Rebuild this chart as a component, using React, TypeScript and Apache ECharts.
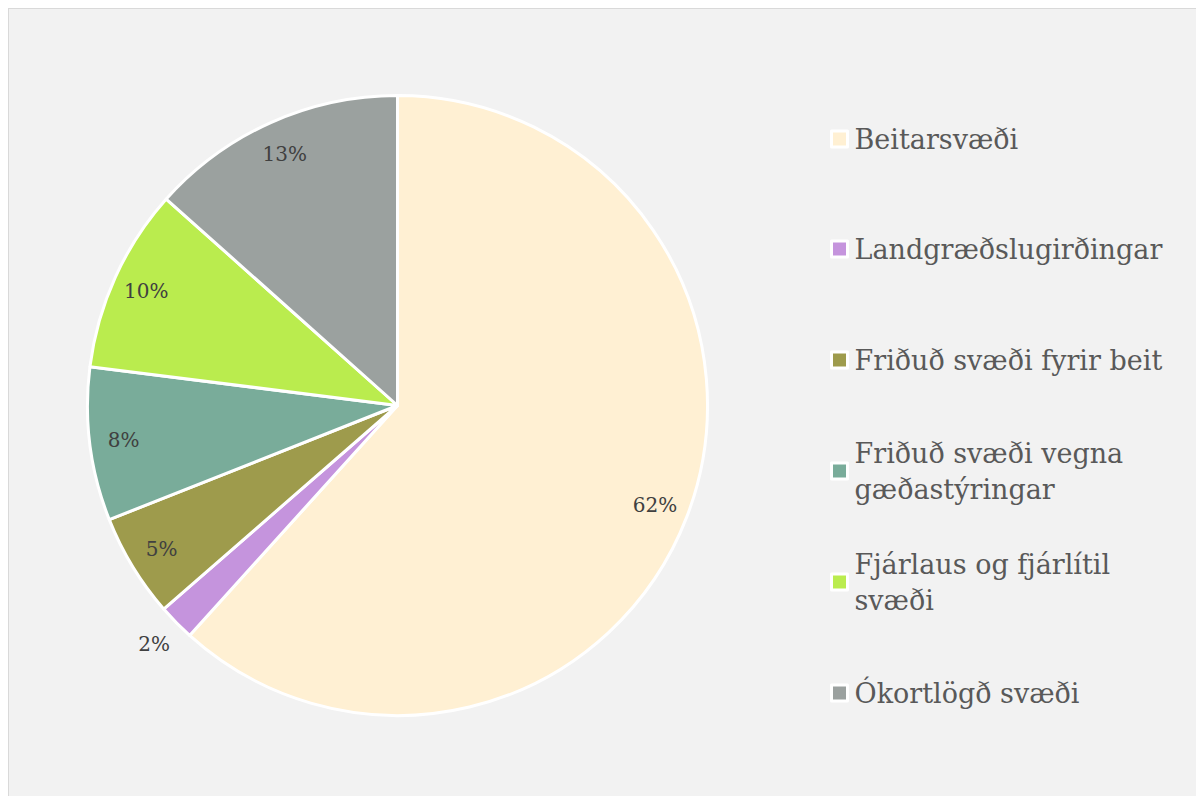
import React, { useEffect, useRef } from "react";
import * as echarts from "echarts";

const categories = [
  "Beitarsvæði",
  "Landgræðslugirðingar",
  "Friðuð svæði fyrir beit",
  "Friðuð svæði vegna gæðastýringar",
  "Fjárlaus og fjárlítil svæði",
  "Ókortlögð svæði",
];
const values = [61.7, 1.9, 5.4, 8.0, 9.6, 13.4];
const colors = ["#FFF0D3", "#C594DD", "#9E9B4C", "#79AC9A", "#BAEC4E", "#9BA19F"];
const legendLines = [
  ["Beitarsvæði"],
  ["Landgræðslugirðingar"],
  ["Friðuð svæði fyrir beit"],
  ["Friðuð svæði vegna", "gæðastýringar"],
  ["Fjárlaus og fjárlítil", "svæði"],
  ["Ókortlögð svæði"],
];

const FONT = "'DejaVu Serif', 'Liberation Serif', serif";

export default function App() {
  const ref = useRef<HTMLDivElement>(null);
  useEffect(() => {
    if (!ref.current) return;
    const chart = echarts.init(ref.current, null, { renderer: "svg" });
    const cx = 388.5;
    const cy = 396.5;
    const R = 310;
    const total = values.reduce((a, b) => a + b, 0);
    const cum: number[] = [];
    let acc = 0;
    values.forEach((v) => {
      cum.push(acc);
      acc += v;
    });

    const lineH = 36;
    const iconSize = 16;
    const legendCenters = [130, 240, 351, 462, 573, 684];
    const legends = categories.map((name, i) => {
      const nLines = legendLines[i].length;
      const extraTop = (nLines - 1) * lineH;
      const textBlockH = nLines * lineH + extraTop;
      const top = legendCenters[i] - textBlockH / 2;
      return {
        data: [name],
        orient: "vertical",
        left: 821,
        top,
        padding: 0,
        itemWidth: iconSize,
        itemHeight: iconSize,
        icon: "rect",
        itemStyle: { borderColor: "#ffffff", borderWidth: 3 },
        selectedMode: false,
        formatter: () => legendLines[i].join("\n"),
        textStyle: {
          fontFamily: FONT,
          fontSize: 27,
          color: "#595959",
          lineHeight: lineH,
          padding: [extraTop, 0, 0, 2],
        },
      };
    });

    chart.setOption({
      animation: false,
      backgroundColor: "#f2f2f2",
      color: colors,
      legend: legends,
      series: [
        {
          type: "pie",
          center: [cx, cy],
          radius: [0, R],
          startAngle: 90,
          clockwise: true,
          data: categories.map((name, i) => ({ name, value: values[i] })),
          itemStyle: { borderColor: "#ffffff", borderWidth: 3 },
          label: {
            show: true,
            position: "inside",
            formatter: (p: any) => `${Math.round(p.value)}%`,
            fontFamily: FONT,
            fontSize: 20,
            color: "#404040",
          },
          labelLine: { show: false },
          labelLayout: (p: any) => {
            const i = p.dataIndex;
            const mid = ((cum[i] + values[i] / 2) / total) * Math.PI * 2;
            const rr = i === 1 ? 341 : 276;
            return {
              x: cx + rr * Math.sin(mid),
              y: cy - rr * Math.cos(mid),
              align: "center",
              verticalAlign: "middle",
            };
          },
          emphasis: { disabled: true },
        },
      ],
    } as any);
    return () => chart.dispose();
  }, []);

  return (
    <div
      style={{
        width: 1196,
        height: 788,
        boxSizing: "border-box",
        borderLeft: "1px solid #d9d9d9",
        borderTop: "1px solid #d9d9d9",
        background: "#f2f2f2",
      }}
    >
      <div ref={ref} style={{ width: 1195, height: 787 }} />
    </div>
  );
}
